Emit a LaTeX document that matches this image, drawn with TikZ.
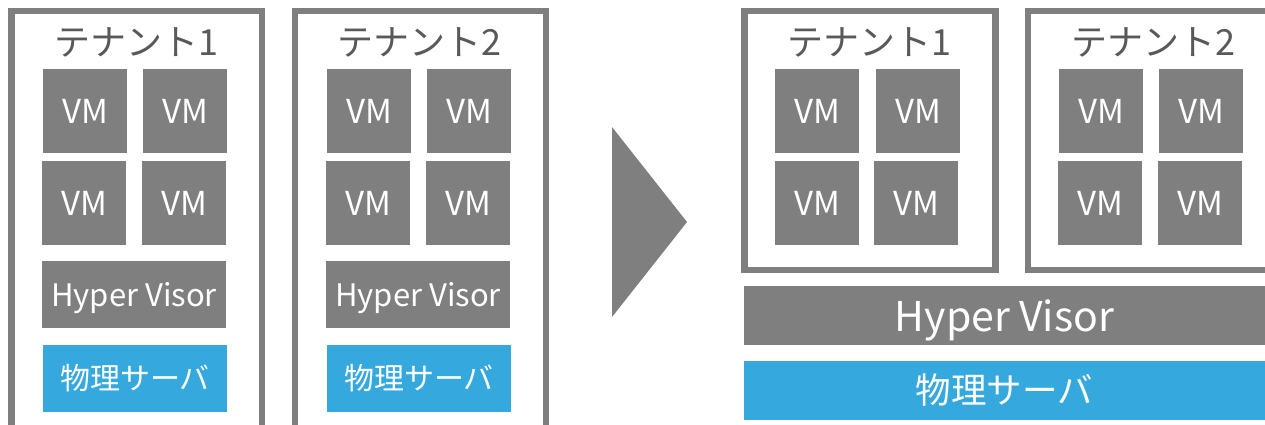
\documentclass[tikz,border=0pt]{standalone}
\usepackage{fontspec}
\setmainfont{Noto Sans CJK JP}
\usepackage{tikz}
\usetikzlibrary{shapes}

\definecolor{boxgray}{HTML}{7F7F7F}
\definecolor{titlegray}{HTML}{595959}
\definecolor{hwblue}{HTML}{35A9DD}

\begin{document}
\begin{tikzpicture}[x=1pt, y=-1pt]
        \tikzstyle{every node}=[inner sep=0pt, outer sep=0pt]
        \tikzstyle{vm}=[fill=boxgray, text=white, minimum width=84pt, minimum height=84pt, font=\fontsize{33}{34}\selectfont]
        \tikzstyle{hv}=[fill=boxgray, text=white, text depth=0pt, minimum width=184pt, minimum height=67pt, font=\fontsize{31}{32}\selectfont]
        \tikzstyle{hw}=[fill=hwblue, text=white, minimum width=184pt, minimum height=67pt, font=\fontsize{30}{31}\selectfont]
        \tikzstyle{tenant}=[draw=boxgray, line width=6.5pt]
        \tikzstyle{title}=[text=titlegray, anchor=base, font=\fontsize{36}{38}\selectfont]
        \useasboundingbox (0,0) rectangle (1265,425);
        \clip (0,0) rectangle (1265,425);
        % before
        \draw [tenant] (11.5, 460) -- (11.5, 11) -- (262, 11) -- (262, 460);
        \draw [tenant] (295, 460) -- (295, 11) -- (546, 11) -- (546, 460);
        \node [title] (t1) at (136, 56) {テナント1};
        \node [title] (t2) at (419, 56) {テナント2};
        \node [vm] (a1) at (85, 111) {VM};
        \node [vm] (a2) at (185, 111) {VM};
        \node [vm] (a3) at (84, 203) {VM};
        \node [vm] (a4) at (184, 203) {VM};
        \node [vm] (b1) at (369, 111) {VM};
        \node [vm] (b2) at (469, 111) {VM};
        \node [vm] (b3) at (368, 203) {VM};
        \node [vm] (b4) at (468, 203) {VM};
        \node [hv] (hva) at (134, 294.5) {Hyper Visor};
        \node [hv] (hvb) at (418, 294.5) {Hyper Visor};
        \node [hw] (hwa) at (135, 378.5) {物理サーバ};
        \node [hw] (hwb) at (419, 378.5) {物理サーバ};
        % arrow
        \fill [boxgray] (612, 127) -- (687, 222) -- (612, 317) -- cycle;
        % after
        \draw [tenant] (744.5, 11) rectangle (995.5, 270);
        \draw [tenant] (1028, 11) rectangle (1300, 270);
        \node [title] (t3) at (869, 56) {テナント1};
        \node [title] (t4) at (1153, 56) {テナント2};
        \node [vm] (c1) at (817, 111) {VM};
        \node [vm] (c2) at (918, 111) {VM};
        \node [vm] (c3) at (817, 203) {VM};
        \node [vm] (c4) at (916, 203) {VM};
        \node [vm] (d1) at (1101, 111) {VM};
        \node [vm] (d2) at (1201, 111) {VM};
        \node [vm] (d3) at (1100, 203) {VM};
        \node [vm] (d4) at (1200, 203) {VM};
        \node [hv, minimum width=521pt, minimum height=59pt, font=\fontsize{41}{42}\selectfont] (hv) at (1004.5, 315.5) {Hyper Visor};
        \node [hw, minimum width=521pt, minimum height=59pt, font=\fontsize{35.5}{36}\selectfont] (hw) at (1004.5, 390.5) {物理サーバ};
      \end{tikzpicture}
\end{document}
